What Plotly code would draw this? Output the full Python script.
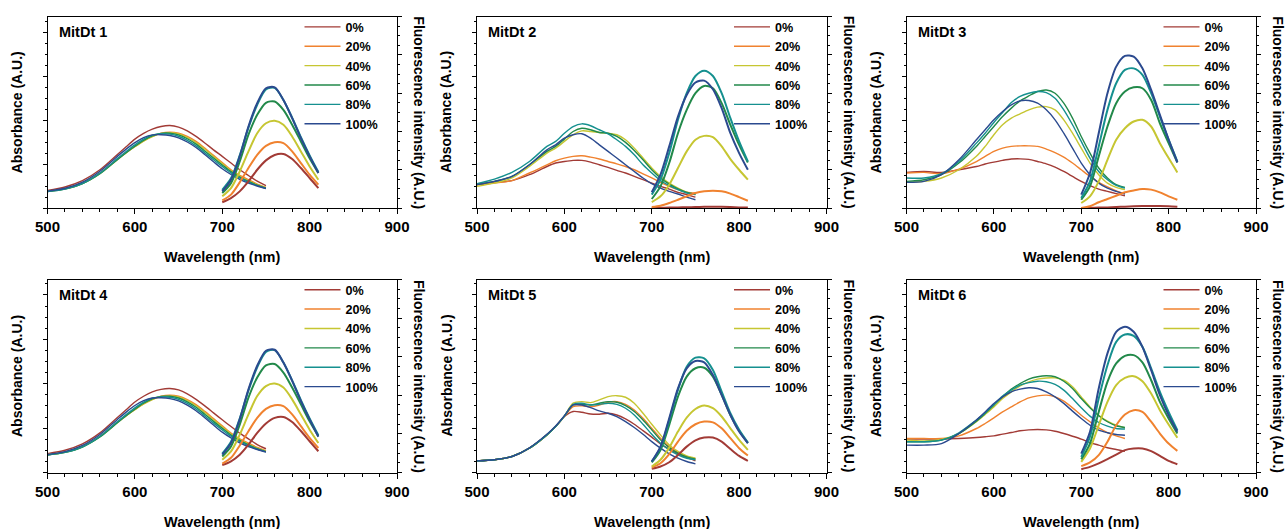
import plotly.graph_objects as go

# ---------------- data ----------------
ABS_WL = [500, 520, 540, 560, 580, 590, 600, 610, 620, 630, 640, 650, 660, 670,
          680, 690, 700, 710, 720, 730, 740, 750]
FL_WL = [700, 710, 720, 730, 740, 750, 760, 770, 780, 790, 800, 810]
LEVELS = ["0%", "20%", "40%", "60%", "80%", "100%"]
PANEL_NAMES = ["MitDt 1", "MitDt 2", "MitDt 3", "MitDt 4", "MitDt 5", "MitDt 6"]
COLORS = ["#A23B36", "#F0822F", "#C6C632", "#22894A", "#15908F", "#2B4A8F"]

# absorbance (A.U.), one list per level 0%..100%
P1_ABS = [
    [9.2, 11, 14.3, 20, 28, 32, 36, 39, 41.2, 42.6, 43.1, 42.3, 40.3, 37.4, 34, 30.4, 27, 23.5, 20, 17, 14, 11.7],
    [8.7, 10.1, 13, 18.3, 25.6, 29, 32.2, 35.1, 37.4, 39.1, 39.6, 39.1, 37.4, 34.8, 31.3, 27.5, 23.8, 20, 17, 14.8, 12.5, 10.8],
    [8.7, 10, 12.8, 18, 25.3, 28.8, 32, 35, 37.3, 38.9, 39.3, 38.7, 36.8, 34.2, 30.7, 26.9, 23.2, 19.5, 16.6, 14.3, 12.2, 10.6],
    [8.6, 9.9, 12.7, 17.9, 25.3, 28.9, 32.3, 35.4, 37.7, 39, 39.1, 38.2, 36.2, 33.4, 29.8, 26.1, 22.5, 19, 16.2, 13.9, 11.9, 10.4],
    [8.6, 9.9, 12.8, 18.2, 25.8, 29.5, 33, 36, 38.1, 38.8, 38.6, 37.5, 35.4, 32.5, 28.9, 25.2, 21.7, 18.4, 15.7, 13.5, 11.7, 10.3],
    [8.8, 10.3, 13.5, 19.2, 27, 30.8, 34.2, 36.8, 38.2, 38.3, 37.9, 36.7, 34.5, 31.6, 28, 24.2, 20.5, 17.5, 15, 13, 11.5, 10.2],
]
P2_ABS = [
    [12.7, 13.4, 14.3, 17.4, 21.7, 23.5, 24.3, 24.9, 24.9, 24, 22.6, 21.2, 19.7, 18.3, 16.5, 14.8, 13, 11.3, 9.9, 8.2, 7, 5.7],
    [12, 13, 14.3, 18.3, 22.6, 24.7, 26.1, 27, 27.3, 26.6, 25.6, 24.3, 23.1, 21.7, 20, 17.9, 15.7, 13.4, 11.3, 9.6, 8.2, 7.8],
    [11.3, 13, 15.7, 21.7, 28.7, 31.3, 34.8, 38.3, 40.3, 40, 39.5, 39.1, 38.3, 35.7, 31.3, 26.1, 20.9, 16.5, 13, 10.4, 8.3, 7],
    [12.2, 13.9, 16.5, 22.6, 29.6, 32.2, 36, 40, 41.7, 40.9, 39.5, 39.1, 37.4, 34.3, 30.1, 25.2, 20, 15.7, 12.5, 10, 8.2, 7.3],
    [12.7, 15.1, 18.6, 24.3, 32.2, 34.8, 39.1, 42.6, 44, 43, 40.9, 38.8, 35.7, 32.2, 27.8, 22.6, 18.3, 14.4, 11.7, 9.6, 7.8, 7],
    [12.2, 13.9, 16.5, 22.6, 30.4, 33, 36.5, 38.3, 38.8, 36.5, 33, 29.6, 26.1, 22.6, 19.1, 15.7, 12.7, 10.4, 8.7, 7.3, 5.7, 4.3],
]
P3_ABS = [
    [18.6, 19.1, 18.6, 20, 21.7, 23, 24, 24.9, 25.6, 25.7, 25.4, 24.3, 23.1, 21.4, 19.1, 16.5, 13.9, 11.7, 9.9, 8.7, 7.5, 6.4],
    [18.3, 18.6, 17.9, 20.3, 24.3, 27, 29.6, 31.3, 32.2, 32.5, 32.5, 32.2, 30.8, 29, 26.6, 23.5, 20, 16.5, 13.4, 11, 9, 7.5],
    [13.4, 13.9, 15.7, 20, 27, 32.2, 38.3, 43.5, 47, 49.2, 51.3, 52.7, 53, 51.3, 46.1, 39.1, 31.3, 23.5, 17.4, 13, 10.8, 9.6],
    [13.9, 14.8, 17.4, 23.5, 32.2, 37.4, 42.6, 47.8, 52.2, 56, 58.6, 60.9, 61.7, 60, 54.8, 47, 37.4, 28.7, 20.9, 15.7, 12.2, 10.8],
    [15.7, 15.7, 17.9, 24.3, 33.9, 39.1, 44.7, 49.9, 55.1, 58.3, 60, 60.9, 60.3, 57.4, 51.3, 43.5, 34.8, 26.1, 19.1, 14.8, 11.8, 10.4],
    [13.4, 13.9, 17.4, 25.2, 35.7, 40.9, 46.1, 50.4, 53.9, 56, 56.2, 54.8, 51.3, 46.1, 39.1, 31.3, 23.5, 17.4, 13, 10.4, 8.7, 7.3],
]
P4_ABS = [
    [9.8, 11.5, 14.8, 20.5, 28.5, 32.5, 36.5, 39.5, 41.8, 43.1, 43.5, 42.8, 40.8, 37.9, 34.5, 30.9, 27.3, 23.8, 20.4, 17.4, 14.5, 12.3],
    [9.2, 10.6, 13.5, 18.8, 26.1, 29.5, 32.7, 35.6, 37.9, 39.5, 40, 39.5, 37.8, 35.2, 31.7, 27.9, 24.2, 20.4, 17.4, 15.2, 13, 11.3],
    [9.2, 10.5, 13.3, 18.5, 25.8, 29.3, 32.5, 35.5, 37.8, 39.3, 39.7, 39.1, 37.2, 34.6, 31.1, 27.3, 23.6, 19.9, 17, 14.7, 12.6, 11],
    [9.1, 10.4, 13.2, 18.4, 25.8, 29.4, 32.8, 35.9, 38.2, 39.4, 39.5, 38.6, 36.6, 33.8, 30.2, 26.5, 22.9, 19.4, 16.6, 14.3, 12.3, 10.8],
    [9.1, 10.4, 13.3, 18.7, 26.3, 30, 33.5, 36.5, 38.5, 39.2, 39, 37.9, 35.8, 32.9, 29.3, 25.6, 22.1, 18.8, 16.1, 13.9, 12.1, 10.7],
    [9.3, 10.8, 14, 19.7, 27.5, 31.3, 34.7, 37.2, 38.6, 38.7, 38.3, 37.1, 34.9, 32, 28.4, 24.6, 20.9, 17.9, 15.4, 13.4, 11.9, 10.6],
]
P5_ABS = [
    [6, 6.6, 8.3, 12.6, 19.5, 23.8, 29, 31.6, 31.2, 30.3, 30.2, 30.7, 29.8, 27.8, 25, 21.7, 18.3, 14.8, 12.1, 9.7, 7.8, 6],
    [6, 6.6, 8.3, 12.6, 19.5, 23.8, 29, 34.1, 34.5, 34.1, 35, 36.4, 36.7, 35.3, 32.4, 28.1, 22.9, 17.8, 13.4, 10.3, 8.3, 7.1],
    [6, 6.6, 8.3, 12.6, 19.5, 23.8, 29.3, 35.9, 36.7, 36.2, 37.6, 39.3, 39.8, 39, 35.9, 30.7, 25, 19.5, 14.3, 10.9, 8.6, 7.4],
    [6, 6.6, 8.3, 12.6, 19.5, 23.8, 29.2, 35, 35.3, 35, 35.9, 36.7, 36.4, 34.7, 31.6, 27.2, 22.1, 16.9, 12.9, 10, 8.1, 6.9],
    [6, 6.6, 8.3, 12.6, 19.5, 23.8, 29.2, 35.3, 35.9, 35, 35.3, 35.9, 35.3, 33.3, 29.8, 25, 19.8, 15.2, 11.7, 9.1, 7.4, 6.6],
    [6, 6.6, 8.3, 12.8, 19.8, 24.1, 29.4, 35, 35, 33.6, 31.9, 30.7, 29, 26.4, 23.3, 19.8, 16, 12.6, 9.7, 7.4, 5.7, 4.5],
]
P6_ABS = [
    [17.3, 17.3, 17.3, 17.6, 18.1, 18.5, 19, 19.9, 20.7, 21.6, 22.1, 22.3, 22.1, 21.4, 20.2, 18.8, 17.3, 15.5, 14.2, 12.8, 11.9, 11],
    [17.6, 17.6, 17.6, 19, 22.8, 25.4, 28.3, 31.4, 34, 36.6, 38.7, 39.7, 40.1, 39.2, 37, 33.5, 29.7, 26.3, 23.1, 20.7, 19, 17.6],
    [16.8, 16.4, 17.1, 20.2, 26.3, 30.1, 34, 38.3, 41.8, 44.9, 47, 48.4, 49, 49, 47.8, 44.4, 39.2, 34, 29.7, 26.6, 24.5, 23.1],
    [15.9, 15.9, 16.8, 20.2, 26.6, 30.6, 34.9, 39.2, 43.2, 46.1, 48.4, 49.6, 50.1, 49.6, 47.3, 43.5, 38.3, 33.5, 29.4, 26.3, 24.2, 23.3],
    [15.9, 15.9, 16.8, 20.6, 27.2, 30.9, 35.2, 39.6, 42.7, 45.3, 46.6, 47.3, 47, 45.6, 42.7, 38.3, 33.5, 29.2, 25.9, 24, 22.8, 22.5],
    [14.2, 14.2, 15, 20.2, 27.2, 31.4, 35.8, 39.2, 41.8, 43.2, 43.9, 43.5, 41.8, 39.2, 35.8, 31.8, 28, 24.5, 21.9, 20.6, 19.7, 19.3],
]

# fluorescence intensity (A.U.), one list per level 0%..100%
P1_FL = [
    [3, 5.2, 8.7, 13.9, 20, 24.9, 27.7, 28.2, 25.6, 20.9, 15.7, 10.4],
    [4, 7, 13.4, 20.9, 27.8, 32.5, 34.4, 33.9, 29.6, 23.5, 17.4, 12.2],
    [6.1, 10.4, 19.1, 29.6, 39.1, 44.3, 45.6, 43.5, 37.4, 29.6, 21.7, 14.8],
    [7.8, 13, 24.3, 38.3, 48.7, 55, 55.7, 51.3, 43.5, 34.8, 26, 18.3],
    [9.5, 15.5, 27.5, 42, 54, 62, 62.8, 56.5, 47.2, 37, 27.5, 18.8],
    [8.7, 14.8, 27, 42.6, 54.8, 62.6, 63.1, 56.5, 47, 36.5, 27, 18.3],
]
P2_FL = [
    [0, 0.1, 0.2, 0.3, 0.4, 0.5, 0.6, 0.6, 0.6, 0.5, 0.3, 0.2],
    [0.5, 1.2, 2.6, 4.3, 6.1, 7.8, 8.7, 9, 8.7, 7.5, 5.7, 3.8],
    [3.1, 6.1, 12.2, 20.9, 29.6, 35.7, 37.7, 37, 32.2, 25.6, 20, 14.8],
    [4.7, 11.3, 23.5, 39.1, 51.3, 60, 63.8, 62.6, 54.8, 43.5, 33, 23.8],
    [7, 14.8, 28.7, 46.1, 60, 69, 71.8, 69, 60, 47, 34.8, 24.3],
    [8.2, 17.4, 32.2, 47.8, 59.1, 65.6, 66.6, 62.1, 52.2, 39.1, 28.7, 20],
]
P3_FL = [
    [0, 0.1, 0.2, 0.3, 0.5, 0.7, 0.9, 1, 1, 1, 0.9, 0.7],
    [0, 0.9, 3, 4.7, 6.4, 8.2, 9.2, 9.9, 9.6, 8.2, 6.1, 4.3],
    [2.6, 6.1, 13.9, 25.2, 35.7, 41.7, 45.2, 46.1, 42.6, 33.9, 26.1, 18.6],
    [4.3, 11.3, 27, 42.6, 54.8, 60.9, 63.1, 62.6, 56.5, 44.3, 33.9, 23.8],
    [5.2, 13.9, 32.2, 51.3, 65.2, 72.2, 73, 69.6, 60, 47.8, 35.7, 24.3],
    [7, 18.3, 39.1, 60, 73.9, 79.5, 79.1, 73, 61.7, 48.7, 35.7, 23.8],
]
P4_FL = [
    [3.8, 5.8, 9.2, 14.4, 20.5, 25.4, 28.3, 28.8, 26.2, 21.5, 16.2, 11],
    [4.6, 7.6, 14, 21.4, 28.3, 33, 34.9, 34.4, 30.1, 24, 17.9, 12.7],
    [6.6, 10.9, 19.6, 30.1, 39.6, 44.8, 46.1, 44, 37.9, 30.1, 22.2, 15.3],
    [8.3, 13.5, 24.8, 38.8, 49.2, 55.5, 56.2, 51.8, 44, 35.3, 26.5, 18.8],
    [9.8, 16, 28, 42.5, 54.5, 62.5, 63.4, 57, 47.7, 37.5, 28, 19.3],
    [9.3, 15.3, 27.5, 43.1, 55.3, 63.1, 63.6, 57, 47.5, 37, 27.5, 18.5],
]
P5_FL = [
    [1.9, 3.1, 5.3, 9.1, 13.4, 16.6, 18.1, 18.1, 16, 12.2, 8.6, 6],
    [2.6, 4.8, 9.5, 16, 21.6, 25, 26.4, 26, 22.9, 17.8, 12.6, 8.8],
    [3.1, 6.6, 12.9, 21.2, 28.4, 32.9, 34.7, 33.3, 29, 22.9, 16.9, 11.7],
    [5.2, 11.7, 24.7, 39.3, 49.7, 54, 54.3, 49.7, 40.2, 29.8, 21.6, 15.2],
    [5.7, 12.9, 27.2, 42.8, 54.8, 59.5, 59.1, 53.1, 41.9, 30.7, 22.1, 15.5],
    [5.7, 13.4, 28.1, 43.6, 54, 57.8, 57.1, 50.5, 40.2, 29.8, 21.2, 15.2],
]
P6_FL = [
    [1.7, 2.9, 4.7, 6.9, 9.3, 11.6, 12.4, 12.4, 11.1, 8.6, 6, 4.3],
    [3.3, 5.2, 9, 15.9, 24.5, 30.1, 32.3, 31.4, 26.3, 20.2, 15, 11.2],
    [5.5, 12.4, 24.5, 36.6, 45.3, 49, 49.9, 47.3, 40.9, 32.3, 24.9, 18],
    [6.9, 15, 31.4, 47, 56.5, 60.4, 60.8, 57, 47.8, 36.6, 28, 20.2],
    [8.1, 18.5, 38.3, 55.6, 67.7, 71.5, 70.8, 65.1, 53.9, 41.8, 31.4, 21.9],
    [9.8, 21.1, 43.5, 61.7, 72.9, 75.5, 72.9, 65.1, 53, 40.1, 29.7, 21.1],
]

ABS_SETS = [P1_ABS, P2_ABS, P3_ABS, P4_ABS, P5_ABS, P6_ABS]
FL_SETS = [P1_FL, P2_FL, P3_FL, P4_FL, P5_FL, P6_FL]

# ---------------- layout geometry (pixels) ----------------
W, H = 1285, 529
COL_PX = [(47.5, 397.0), (477.0, 826.5), (906.5, 1256.0)]
ROW_PX = [(16.7, 208.0), (279.5, 472.5)]
FONT = "Liberation Sans, Arial, Helvetica, sans-serif"


def xp(px):
    return px / W


def yp(py):
    return 1 - py / H


def bold(size):
    return dict(family=FONT, size=size, color="black", weight="bold")


fig = go.Figure()
layout = dict(
    template="none",
    width=W, height=H, autosize=False,
    margin=dict(l=0, r=0, t=0, b=0, pad=0, autoexpand=False),
    paper_bgcolor="white", plot_bgcolor="white",
    font=dict(family=FONT, size=13, color="black"),
    showlegend=True,
)
annotations = []

for k in range(6):
    r, c = divmod(k, 3)
    x0, x1 = COL_PX[c]
    ytop, ybot = ROW_PX[r]
    xn = "" if k == 0 else str(k + 1)
    yl = "" if k == 0 else str(2 * k + 1)
    yr = str(2 * k + 2)
    leg = "legend" if k == 0 else f"legend{k + 1}"

    for i, lvl in enumerate(LEVELS):
        fig.add_trace(go.Scatter(
            x=ABS_WL, y=ABS_SETS[k][i], mode="lines", name=lvl,
            line=dict(color=COLORS[i], width=1.4, shape="spline", smoothing=0.8),
            xaxis="x" + xn, yaxis="y" + yl, legend=leg, showlegend=True,
        ))
    for i, lvl in enumerate(LEVELS):
        fig.add_trace(go.Scatter(
            x=FL_WL, y=FL_SETS[k][i], mode="lines", name=lvl,
            line=dict(color=COLORS[i], width=2, shape="spline", smoothing=0.8),
            xaxis="x" + xn, yaxis="y" + yr, legend=leg, showlegend=False,
        ))

    layout["xaxis" + xn] = dict(
        domain=[xp(x0), xp(x1)], anchor="y" + yl, range=[500, 900], automargin=False,
        tick0=500, dtick=100, ticks="outside", ticklen=5, tickwidth=1, tickcolor="black",
        minor=dict(ticks="outside", ticklen=3, dtick=20, tick0=500, showgrid=False, tickcolor="black"),
        showline=True, linecolor="black", linewidth=1, mirror=True,
        showgrid=False, zeroline=False,
        tickfont=bold(15),
    )
    layout["yaxis" + yl] = dict(
        domain=[yp(ybot), yp(ytop)], anchor="x" + xn, range=[0, 100], automargin=False,
        showticklabels=False, ticks="outside", ticklen=4, tick0=0, dtick=23, tickcolor="black",
        minor=dict(ticks="outside", ticklen=2, dtick=5.75, tick0=0, showgrid=False, tickcolor="black"),
        showline=True, linecolor="black", linewidth=1,
        showgrid=False, zeroline=False,
    )
    layout["yaxis" + yr] = dict(
        overlaying="y" + yl, side="right", anchor="x" + xn, range=[0, 100], automargin=False,
        showticklabels=False, ticks="outside", ticklen=4, tick0=0, dtick=20, tickcolor="black",
        minor=dict(ticks="outside", ticklen=2, dtick=5, tick0=0, showgrid=False, tickcolor="black"),
        showline=True, linecolor="black", linewidth=1,
        showgrid=False, zeroline=False,
    )
    layout[leg] = dict(
        x=xp(x0 + 252), y=yp(ytop - 4.5), xanchor="left", yanchor="top",
        bgcolor="rgba(0,0,0,0)", borderwidth=0,
        font=bold(12.6), tracegroupgap=0, itemwidth=36,
    )

    annotations.append(dict(
        text="Wavelength (nm)", x=xp((x0 + x1) / 2), y=yp(ybot + 49),
        xref="paper", yref="paper", showarrow=False, font=bold(14.5),
        xanchor="center", yanchor="middle"))
    annotations.append(dict(
        text="Absorbance (A.U.)", x=xp(x0 - 30.5), y=yp((ytop + ybot) / 2),
        xref="paper", yref="paper", showarrow=False, font=bold(14), textangle=-90,
        xanchor="center", yanchor="middle"))
    annotations.append(dict(
        text="Fluorescence intensity (A.U.)", x=xp(x1 + 22), y=yp((ytop + ybot) / 2),
        xref="paper", yref="paper", showarrow=False, font=bold(14), textangle=90,
        xanchor="center", yanchor="middle"))
    annotations.append(dict(
        text=PANEL_NAMES[k], x=xp(x0 + 9), y=yp(ytop + 15),
        xref="paper", yref="paper", showarrow=False, font=bold(14.5),
        xanchor="left", yanchor="middle"))

layout["annotations"] = annotations
fig.update_layout(**layout)
fig.write_html(
    "out.html",
    config={"displayModeBar": False},
    post_script="document.body.style.margin='0';document.body.style.overflow='hidden';",
)
